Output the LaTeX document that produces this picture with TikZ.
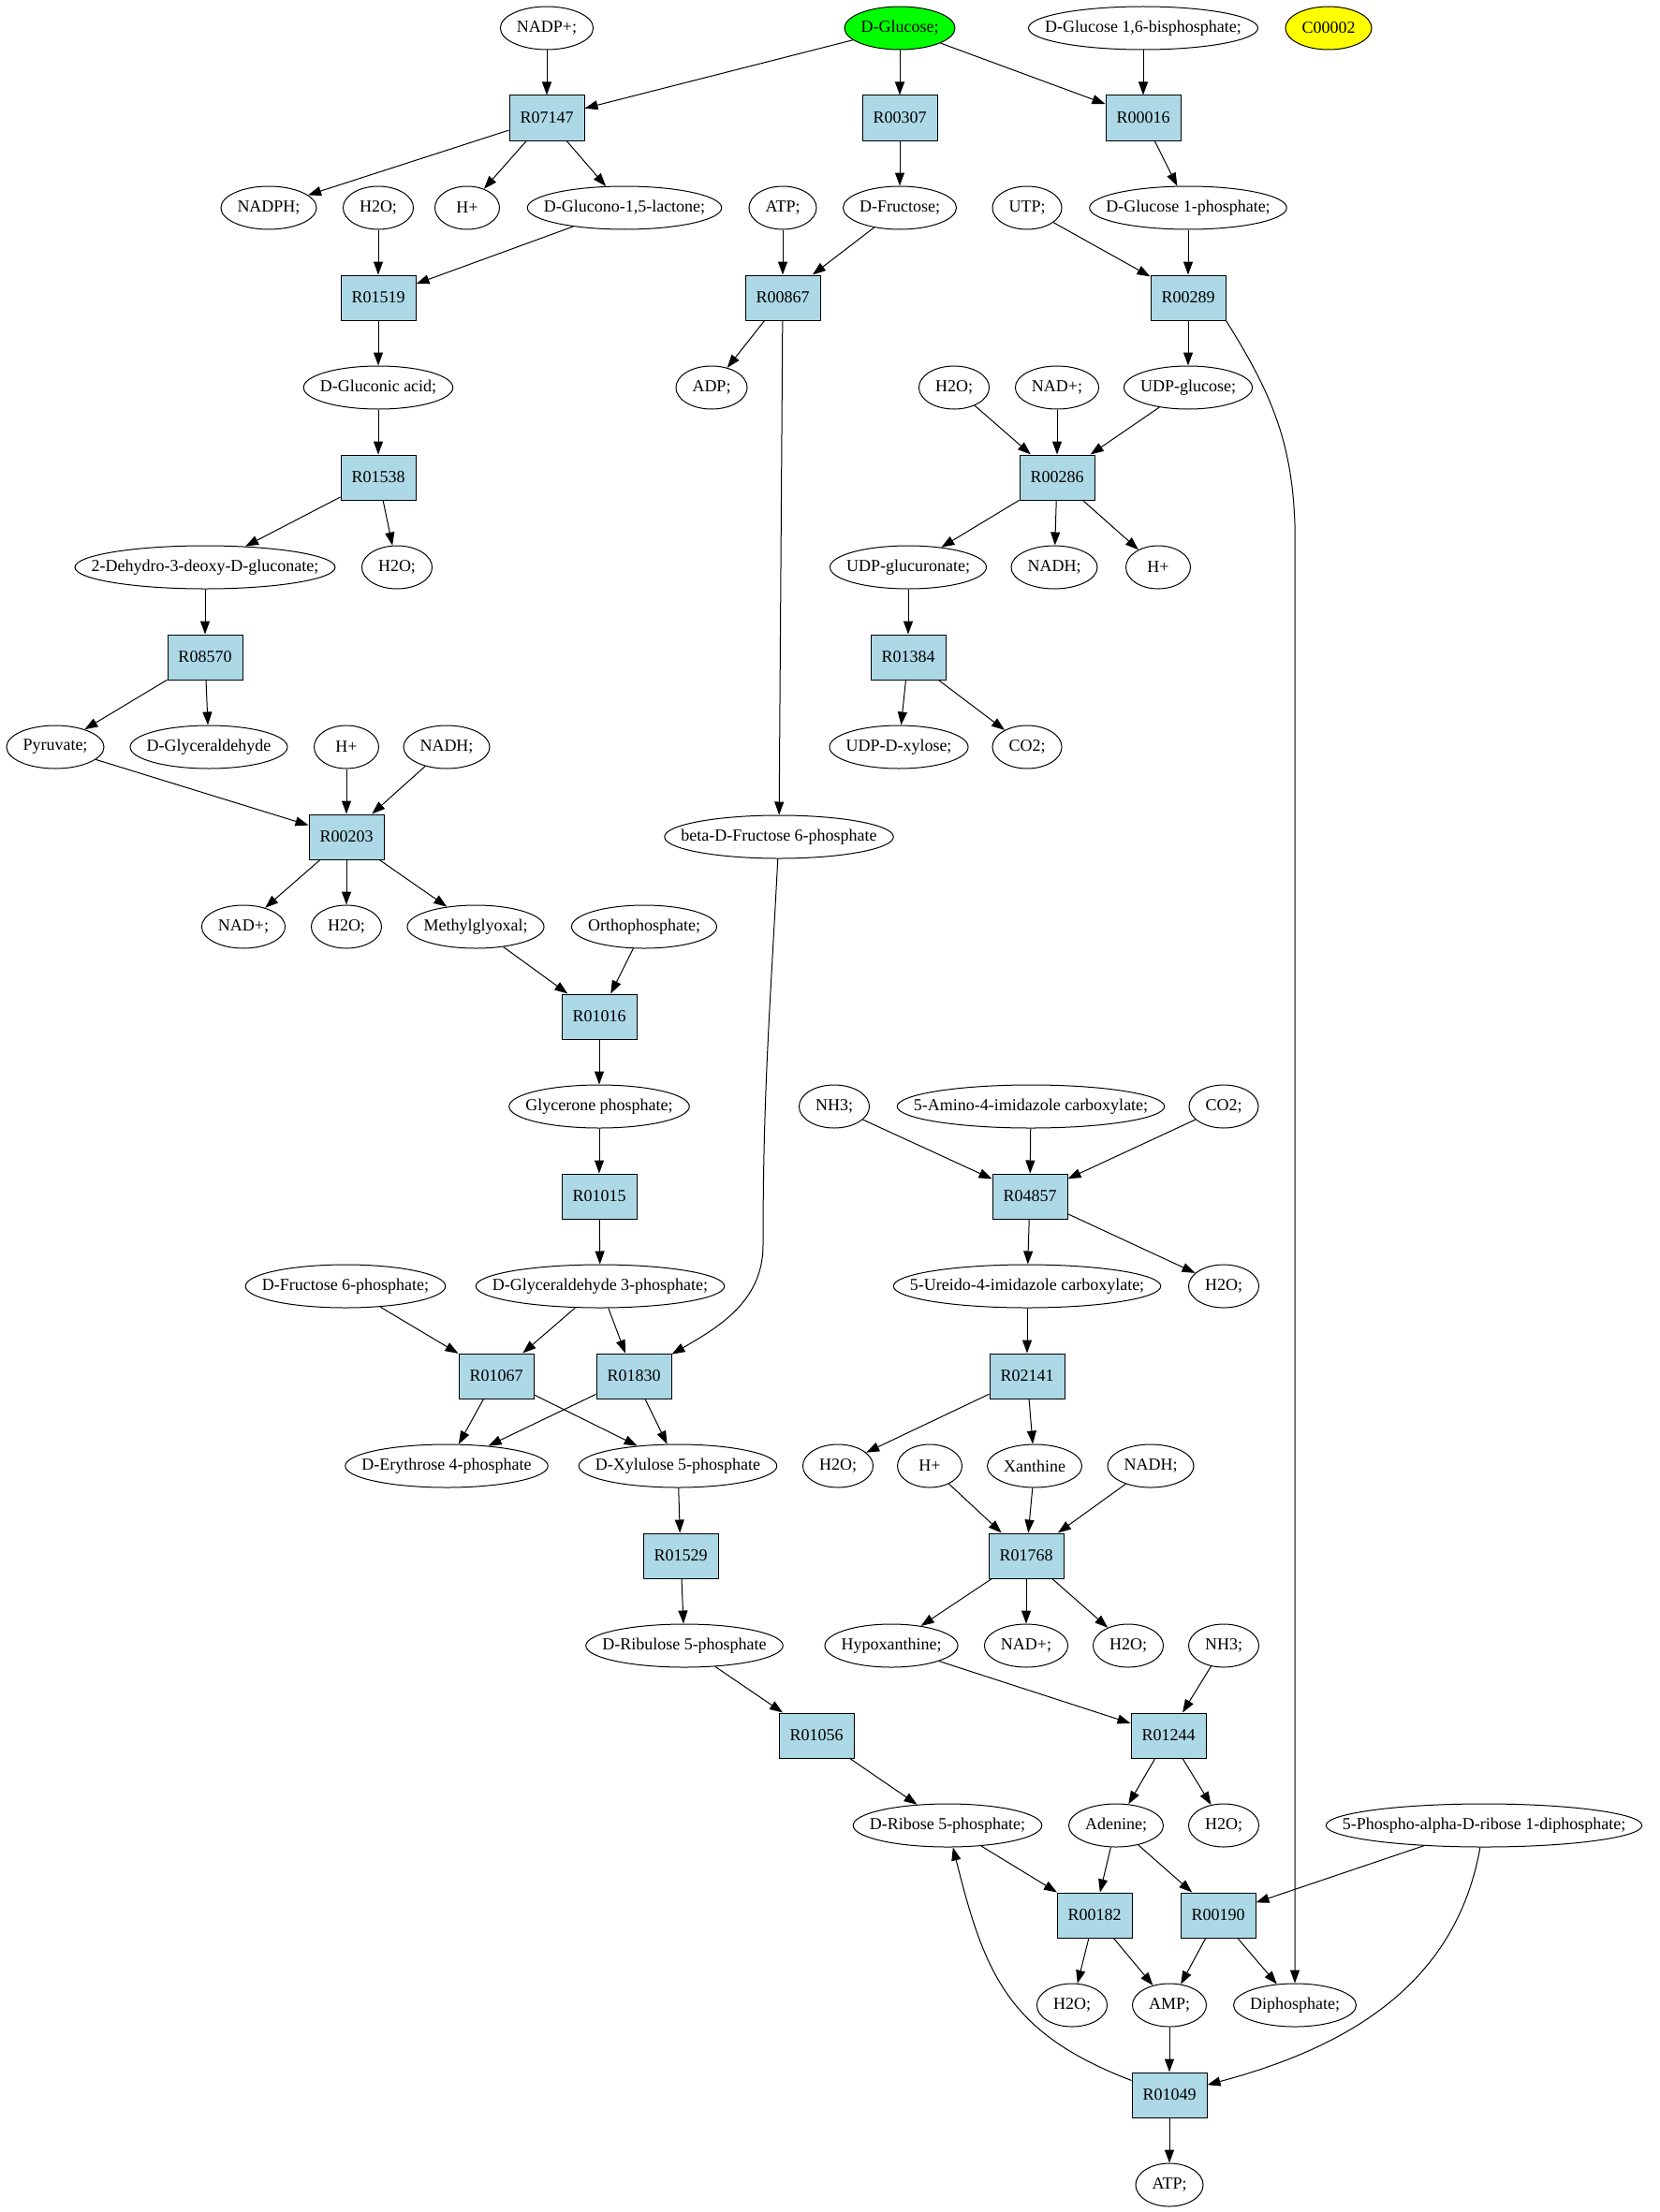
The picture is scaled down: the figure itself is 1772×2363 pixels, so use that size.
\documentclass[tikz,border=0pt]{standalone}
\usepackage{fontspec}
\setmainfont{Liberation Serif}
\usetikzlibrary{arrows.meta}
\usetikzlibrary{shapes.geometric}
\definecolor{reaction}{RGB}{173, 216, 230}
\definecolor{glcgreen}{RGB}{0, 255, 0}
\definecolor{cpdyellow}{RGB}{255, 255, 0}
\newcommand{\cname}[1]{\makebox[0.7071\width]{#1}}% narrow box, so the ellipse stays close to the name
\tikzset{
	cpd/.style={ellipse, draw, inner xsep=12.4pt, inner ysep=0pt, minimum width=69pt, minimum height=46pt},
	rxn/.style={rectangle, draw, fill=reaction, minimum width=80pt, minimum height=48pt, inner sep=0pt},
	flow/.style={-{Triangle[length=14pt,width=10pt]}},
}
\begin{document}
\begin{tikzpicture}[x=1pt, y=1pt, line width=1pt, font=\fontsize{18}{21}\selectfont]
	\useasboundingbox (0,0) rectangle (1772,-2363);

	% compounds and reactions, row by row
	\node[cpd] (nadpp) at (584,-30) {\cname{NADP+;}};
	\node[cpd, fill=glcgreen] (glc) at (961,-30) {\cname{D-Glucose;}};
	\node[cpd] (glc16bp) at (1221,-30) {\cname{D-Glucose 1,6-bisphosphate;}};
	\node[cpd, fill=cpdyellow] (c00002) at (1419,-30) {\cname{C00002}};

	\node[rxn] (r07147) at (584,-126) {R07147};
	\node[rxn] (r00307) at (961,-126) {R00307};
	\node[rxn] (r00016) at (1221,-126) {R00016};

	\node[cpd] (nadph) at (287,-222) {\cname{NADPH;}};
	\node[cpd] (h2oA) at (404,-222) {\cname{H2O;}};
	\node[cpd] (hpA) at (499,-222) {\cname{H+}};
	\node[cpd] (gdl) at (667,-222) {\cname{D-Glucono-1,5-lactone;}};
	\node[cpd] (atpA) at (836,-222) {\cname{ATP;}};
	\node[cpd] (fru) at (961,-222) {\cname{D-Fructose;}};
	\node[cpd] (utp) at (1097,-222) {\cname{UTP;}};
	\node[cpd] (g1p) at (1269,-222) {\cname{D-Glucose 1-phosphate;}};

	\node[rxn] (r01519) at (404,-318) {R01519};
	\node[rxn] (r00867) at (836,-318) {R00867};
	\node[rxn] (r00289) at (1269,-318) {R00289};

	\node[cpd] (glcn) at (404,-414) {\cname{D-Gluconic acid;}};
	\node[cpd] (adp) at (760,-414) {\cname{ADP;}};
	\node[cpd] (h2oB) at (1019,-414) {\cname{H2O;}};
	\node[cpd] (nadA) at (1129,-414) {\cname{NAD+;}};
	\node[cpd] (udpg) at (1269,-414) {\cname{UDP-glucose;}};

	\node[rxn] (r01538) at (404,-510) {R01538};
	\node[rxn] (r00286) at (1129,-510) {R00286};

	\node[cpd] (kdg) at (219,-606) {\cname{2-Dehydro-3-deoxy-D-gluconate;}};
	\node[cpd] (h2oC) at (424,-606) {\cname{H2O;}};
	\node[cpd] (udpga) at (970,-606) {\cname{UDP-glucuronate;}};
	\node[cpd] (nadhA) at (1126,-606) {\cname{NADH;}};
	\node[cpd] (hpB) at (1237,-606) {\cname{H+}};

	\node[rxn] (r08570) at (219,-702) {R08570};
	\node[rxn] (r01384) at (970,-702) {R01384};

	\node[cpd] (pyr) at (59,-798) {\cname{Pyruvate;}};
	\node[cpd] (gla) at (223,-798) {\cname{D-Glyceraldehyde}};
	\node[cpd] (hpC) at (370,-798) {\cname{H+}};
	\node[cpd] (nadhB) at (477,-798) {\cname{NADH;}};
	\node[cpd] (udpxyl) at (960,-798) {\cname{UDP-D-xylose;}};
	\node[cpd] (co2A) at (1097,-798) {\cname{CO2;}};

	\node[rxn] (r00203) at (370,-894) {R00203};
	\node[cpd] (bf6p) at (832,-894) {\cname{beta-D-Fructose 6-phosphate}};

	\node[cpd] (nadB) at (260,-990) {\cname{NAD+;}};
	\node[cpd] (h2oD) at (370,-990) {\cname{H2O;}};
	\node[cpd] (mgo) at (508,-990) {\cname{Methylglyoxal;}};
	\node[cpd] (pi) at (688,-990) {\cname{Orthophosphate;}};

	\node[rxn] (r01016) at (640,-1086) {R01016};

	\node[cpd] (dhap) at (640,-1182) {\cname{Glycerone phosphate;}};
	\node[cpd] (nh3A) at (891,-1182) {\cname{NH3;}};
	\node[cpd] (aic) at (1101,-1182) {\cname{5-Amino-4-imidazole carboxylate;}};
	\node[cpd] (co2B) at (1307,-1182) {\cname{CO2;}};

	\node[rxn] (r01015) at (640,-1278) {R01015};
	\node[rxn] (r04857) at (1100,-1278) {R04857};

	\node[cpd] (f6p) at (369,-1374) {\cname{D-Fructose 6-phosphate;}};
	\node[cpd] (gap) at (641,-1374) {\cname{D-Glyceraldehyde 3-phosphate;}};
	\node[cpd] (uaic) at (1097,-1374) {\cname{5-Ureido-4-imidazole carboxylate;}};
	\node[cpd] (h2oE) at (1307,-1374) {\cname{H2O;}};

	\node[rxn] (r01067) at (530,-1470) {R01067};
	\node[rxn] (r01830) at (677,-1470) {R01830};
	\node[rxn] (r02141) at (1097,-1470) {R02141};

	\node[cpd] (e4p) at (477,-1566) {\cname{D-Erythrose 4-phosphate}};
	\node[cpd] (xu5p) at (724,-1566) {\cname{D-Xylulose 5-phosphate}};
	\node[cpd] (h2oF) at (895,-1566) {\cname{H2O;}};
	\node[cpd] (hpD) at (993,-1566) {\cname{H+}};
	\node[cpd] (xan) at (1105,-1566) {\cname{Xanthine}};
	\node[cpd] (nadhC) at (1229,-1566) {\cname{NADH;}};

	\node[rxn] (r01529) at (727,-1662) {R01529};
	\node[rxn] (r01768) at (1096,-1662) {R01768};

	\node[cpd] (ru5p) at (731,-1758) {\cname{D-Ribulose 5-phosphate}};
	\node[cpd] (hxan) at (952,-1758) {\cname{Hypoxanthine;}};
	\node[cpd] (nadC) at (1096,-1758) {\cname{NAD+;}};
	\node[cpd] (h2oG) at (1205,-1758) {\cname{H2O;}};
	\node[cpd] (nh3B) at (1307,-1758) {\cname{NH3;}};

	\node[rxn] (r01056) at (872,-1854) {R01056};
	\node[rxn] (r01244) at (1248,-1854) {R01244};

	\node[cpd] (r5p) at (1012,-1950) {\cname{D-Ribose 5-phosphate;}};
	\node[cpd] (ade) at (1192,-1950) {\cname{Adenine;}};
	\node[cpd] (h2oH) at (1307,-1950) {\cname{H2O;}};
	\node[cpd] (prpp) at (1585,-1950) {\cname{5-Phospho-alpha-D-ribose 1-diphosphate;}};

	\node[rxn] (r00182) at (1169,-2046) {R00182};
	\node[rxn] (r00190) at (1301,-2046) {R00190};

	\node[cpd] (h2oI) at (1145,-2142) {\cname{H2O;}};
	\node[cpd] (amp) at (1249,-2142) {\cname{AMP;}};
	\node[cpd] (ppi) at (1383,-2142) {\cname{Diphosphate;}};

	\node[rxn] (r01049) at (1249,-2238) {R01049};
	\node[cpd] (atpB) at (1249,-2334) {\cname{ATP;}};

	% bends of the long edges
	\coordinate (dpbend) at (1383,-560);
	\coordinate (bfbend) at (815,-1330);

	% edges
	\draw[flow] (nadpp) -- (r07147);
	\draw[flow] (glc) -- (r07147);
	\draw[flow] (glc) -- (r00307);
	\draw[flow] (glc) -- (r00016);
	\draw[flow] (glc16bp) -- (r00016);
	\draw[flow] (r07147) -- (nadph);
	\draw[flow] (r07147) -- (hpA);
	\draw[flow] (r07147) -- (gdl);
	\draw[flow] (r00307) -- (fru);
	\draw[flow] (r00016) -- (g1p);
	\draw[flow] (h2oA) -- (r01519);
	\draw[flow] (gdl) -- (r01519);
	\draw[flow] (atpA) -- (r00867);
	\draw[flow] (fru) -- (r00867);
	\draw[flow] (utp) -- (r00289);
	\draw[flow] (g1p) -- (r00289);
	\draw[flow] (r01519) -- (glcn);
	\draw[flow] (r00867) -- (adp);
	\draw[flow] (r00867) -- (bf6p);
	\draw[flow] (r00289) -- (udpg);
	\draw[flow] (r00289.south east) to[out=-58, in=92] (dpbend) -- (ppi);
	\draw[flow] (glcn) -- (r01538);
	\draw[flow] (h2oB) -- (r00286);
	\draw[flow] (nadA) -- (r00286);
	\draw[flow] (udpg) -- (r00286);
	\draw[flow] (r01538) -- (kdg);
	\draw[flow] (r01538) -- (h2oC);
	\draw[flow] (r00286) -- (udpga);
	\draw[flow] (r00286) -- (nadhA);
	\draw[flow] (r00286) -- (hpB);
	\draw[flow] (kdg) -- (r08570);
	\draw[flow] (udpga) -- (r01384);
	\draw[flow] (r08570) -- (pyr);
	\draw[flow] (r08570) -- (gla);
	\draw[flow] (r01384) -- (udpxyl);
	\draw[flow] (r01384) -- (co2A);
	\draw[flow] (pyr) -- (r00203);
	\draw[flow] (hpC) -- (r00203);
	\draw[flow] (nadhB) -- (r00203);
	\draw[flow] (r00203) -- (nadB);
	\draw[flow] (r00203) -- (h2oD);
	\draw[flow] (r00203) -- (mgo);
	\draw[flow] (mgo) -- (r01016);
	\draw[flow] (pi) -- (r01016);
	\draw[flow] (r01016) -- (dhap);
	\draw[flow] (dhap) -- (r01015);
	\draw[flow] (nh3A) -- (r04857);
	\draw[flow] (aic) -- (r04857);
	\draw[flow] (co2B) -- (r04857);
	\draw[flow] (r01015) -- (gap);
	\draw[flow] (r04857) -- (uaic);
	\draw[flow] (r04857) -- (h2oE);
	\draw[flow] (bf6p) to[out=-93, in=90] (bfbend) to[out=-90, in=30] (r01830);
	\draw[flow] (f6p) -- (r01067);
	\draw[flow] (gap) -- (r01067);
	\draw[flow] (gap) -- (r01830);
	\draw[flow] (uaic) -- (r02141);
	\draw[flow] (r01067) -- (e4p);
	\draw[flow] (r01067) -- (xu5p);
	\draw[flow] (r01830) -- (e4p);
	\draw[flow] (r01830) -- (xu5p);
	\draw[flow] (r02141) -- (h2oF);
	\draw[flow] (r02141) -- (xan);
	\draw[flow] (xu5p) -- (r01529);
	\draw[flow] (hpD) -- (r01768);
	\draw[flow] (xan) -- (r01768);
	\draw[flow] (nadhC) -- (r01768);
	\draw[flow] (r01529) -- (ru5p);
	\draw[flow] (r01768) -- (hxan);
	\draw[flow] (r01768) -- (nadC);
	\draw[flow] (r01768) -- (h2oG);
	\draw[flow] (ru5p) -- (r01056);
	\draw[flow] (hxan) -- (r01244);
	\draw[flow] (nh3B) -- (r01244);
	\draw[flow] (r01056) -- (r5p);
	\draw[flow] (r01244) -- (ade);
	\draw[flow] (r01244) -- (h2oH);
	\draw[flow] (r5p) -- (r00182);
	\draw[flow] (ade) -- (r00182);
	\draw[flow] (ade) -- (r00190);
	\draw[flow] (prpp) -- (r00190);
	\draw[flow] (r00182) -- (h2oI);
	\draw[flow] (r00182) -- (amp);
	\draw[flow] (r00190) -- (amp);
	\draw[flow] (r00190) -- (ppi);
	\draw[flow] (amp) -- (r01049);
	\draw[flow] (prpp) to[out=-100, in=15] (r01049);
	\draw[flow] (r01049) -- (atpB);
	\draw[flow] (r01049) to[out=159, in=-76, looseness=1.15] (r5p);
\end{tikzpicture}
\end{document}
